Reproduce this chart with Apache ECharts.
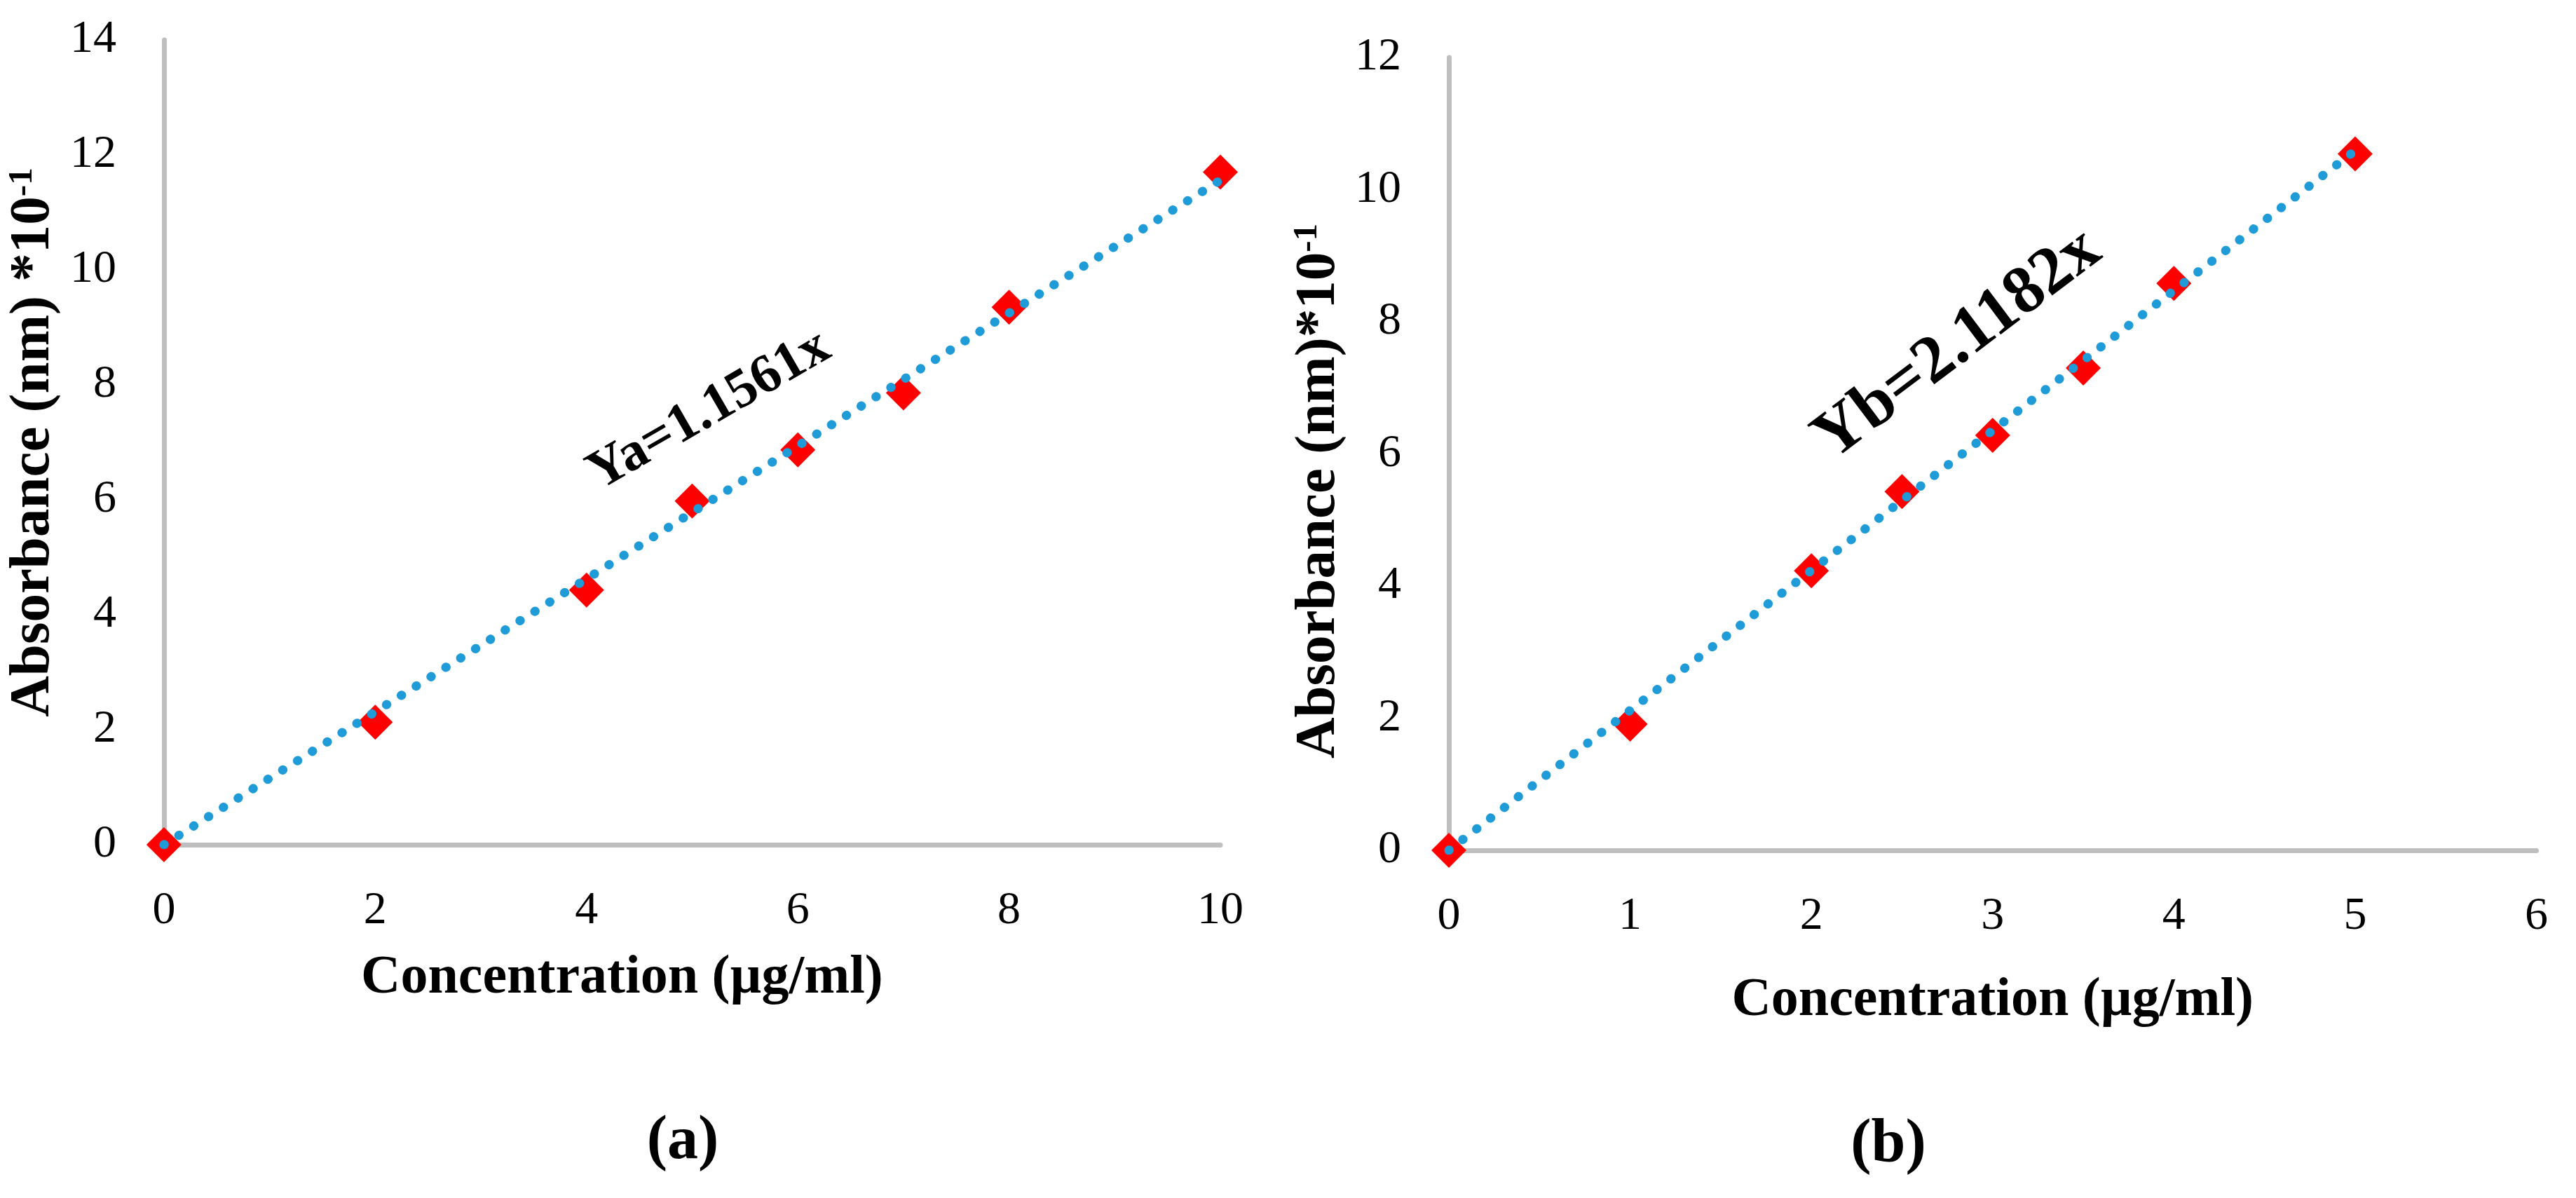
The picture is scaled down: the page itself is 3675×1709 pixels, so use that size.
<!DOCTYPE html>
<html>
<head>
<meta charset="utf-8">
<script src="https://cdn.jsdelivr.net/npm/echarts@6/dist/echarts.min.js"></script>
<style>
html,body{margin:0;padding:0;background:#fff;width:3675px;height:1709px;overflow:hidden;}
#ca{position:absolute;left:0;top:0;width:1777px;height:1709px;}
#cb{position:absolute;left:1800px;top:0;width:1838px;height:1709px;}
</style>
</head>
<body>
<div id="ca"></div>
<div id="cb"></div>
<script>
// ---- data (panel a) ----
const concA = [0, 2, 4, 5, 6, 7, 8, 10];
const absA  = [0, 2.13, 4.43, 5.98, 6.87, 7.86, 9.35, 11.70];
const trendAX = [0, 10];
const trendAY = [0, 11.561];
const xTicksA = [0, 2, 4, 6, 8, 10];
const yTicksA = [0, 2, 4, 6, 8, 10, 12, 14];
// ---- data (panel b) ----
const concB = [0, 1, 2, 2.5, 3, 3.5, 4, 5];
const absB  = [0, 1.91, 4.23, 5.43, 6.28, 7.30, 8.58, 10.54];
const trendBX = [0, 5];
const trendBY = [0, 10.591];
const xTicksB = [0, 1, 2, 3, 4, 5, 6];
const yTicksB = [0, 2, 4, 6, 8, 10, 12];

const FONT = "'Liberation Serif', 'DejaVu Serif', serif";
const AXIS_GRAY = '#BFBFBF';
const BLUE = '#1F9BD8';
const RED = '#FF0000';

function zip(a, b) { return a.map((v, i) => [v, b[i]]); }

function makeOption(cfg) {
  return {
    animation: false,
    backgroundColor: '#fff',
    grid: cfg.grid,
    xAxis: {
      type: 'value',
      min: cfg.xTicks[0], max: cfg.xTicks[cfg.xTicks.length - 1],
      interval: cfg.xTicks[1] - cfg.xTicks[0],
      axisLine: { show: true, lineStyle: { color: AXIS_GRAY, width: 7 } },
      axisTick: { show: false },
      splitLine: { show: false },
      axisLabel: { color: '#000', fontSize: 66, fontFamily: FONT, margin: 62 },
      name: 'Concentration (µg/ml)',
      nameLocation: 'middle',
      nameGap: cfg.xNameGap,
      nameTextStyle: { color: '#000', fontSize: 78, fontWeight: 'bold', fontFamily: FONT, padding: cfg.xNamePad }
    },
    yAxis: {
      type: 'value',
      min: cfg.yTicks[0], max: cfg.yTicks[cfg.yTicks.length - 1],
      interval: cfg.yTicks[1] - cfg.yTicks[0],
      axisLine: { show: true, lineStyle: { color: AXIS_GRAY, width: 7 } },
      axisTick: { show: false },
      splitLine: { show: false },
      axisLabel: { color: '#000', fontSize: 66, fontFamily: FONT, margin: 68 },
      name: '{t|' + cfg.yName + '}{s|-1}',
      nameLocation: 'middle',
      nameGap: cfg.yNameGap,
      nameTextStyle: {
        color: '#000', fontFamily: FONT, padding: cfg.yNamePad,
        rich: {
          t: { fontSize: 81, fontWeight: 'bold', fontFamily: FONT, color: '#000' },
          s: { fontSize: 49, fontWeight: 'bold', fontFamily: FONT, color: '#000', verticalAlign: 'top' }
        }
      }
    },
    series: [
      {
        type: 'scatter',
        data: zip(cfg.x, cfg.y),
        symbol: 'diamond',
        symbolSize: 50,
        itemStyle: { color: RED, opacity: 1 },
        z: 2
      },
      {
        type: 'line',
        data: zip(cfg.tx, cfg.ty),
        symbol: 'none',
        lineStyle: { color: BLUE, width: 13, type: [0.5, 24.5], cap: 'round', opacity: 1 },
        z: 3
      }
    ],
    graphic: [
      {
        type: 'text', x: cfg.eq.x, y: cfg.eq.y, rotation: cfg.eq.rot * Math.PI / 180,
        style: { text: cfg.eq.text, fill: '#000', font: 'bold ' + cfg.eq.size + 'px ' + FONT,
                 textAlign: 'center', textVerticalAlign: 'middle' }
      },
      {
        type: 'text', x: cfg.tag.x, y: cfg.tag.y,
        style: { text: cfg.tag.text, fill: '#000', font: 'bold 88px ' + FONT,
                 textAlign: 'center', textVerticalAlign: 'middle' }
      }
    ]
  };
}

const chartA = echarts.init(document.getElementById('ca'));
chartA.setOption(makeOption({
  grid: { left: 229.5, top: 57, width: 1520.5, height: 1148 },
  xTicks: xTicksA, yTicks: yTicksA,
  x: concA, y: absA, tx: trendAX, ty: trendAY,
  xNameGap: 152, xNamePad: [0, 200, 0, 0],
  yName: 'Absorbance (nm) *10', yNameGap: 118, yNamePad: [0, 0, 0, 0],
  eq: { text: 'Ya=1.1561x', x: 1012, y: 586, rot: 30, size: 78 },
  tag: { text: '(a)', x: 974, y: 1629 }
}));

const chartB = echarts.init(document.getElementById('cb'));
chartB.setOption(makeOption({
  grid: { left: 267, top: 82, width: 1564, height: 1131 },
  xTicks: xTicksB, yTicks: yTicksB,
  x: concB, y: absB, tx: trendBX, ty: trendBY,
  xNameGap: 176, xNamePad: [0, 0, 0, 0],
  yName: 'Absorbance (nm)*10', yNameGap: 137, yNamePad: [0, 106, 0, 0],
  eq: { text: 'Yb=2.1182x', x: 993, y: 492, rot: 37, size: 96 },
  tag: { text: '(b)', x: 894, y: 1634 }
}));
</script>
</body>
</html>
